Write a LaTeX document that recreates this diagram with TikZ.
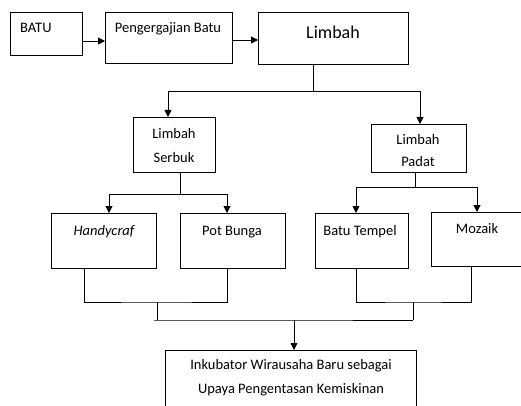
\documentclass[tikz,border=0pt]{standalone}
\usepackage{fontspec}
\setmainfont{Carlito}
\usetikzlibrary{arrows.meta}
\begin{document}
\begin{tikzpicture}[x=1pt,y=-1pt,
  box/.style={draw,line width=0.9pt,inner sep=0pt,anchor=north west},
  txt/.style={anchor=base,inner sep=0pt,font=\fontsize{14.5}{17}\selectfont},
  big/.style={anchor=base,inner sep=0pt,font=\fontsize{18}{21}\selectfont},
  ln/.style={line width=0.9pt},
  arr/.style={line width=0.9pt,-{Triangle[length=7pt,width=7pt]}}]
\clip (0,0) rectangle (521,406);
\fill[white] (0,0) rectangle (521,406);
% boxes
\node[box,minimum width=72pt,minimum height=43pt] (BATU) at (10,12) {};
\node[box,minimum width=127pt,minimum height=51pt] (PENG) at (105,12) {};
\node[box,minimum width=150pt,minimum height=52pt] (LIM) at (258,12) {};
\node[box,minimum width=82pt,minimum height=55pt] (SER) at (133,117) {};
\node[box,minimum width=95pt,minimum height=48pt] (PAD) at (371,124) {};
\node[box,minimum width=105pt,minimum height=55pt] (HAN) at (51,213) {};
\node[box,minimum width=105pt,minimum height=55pt] (POT) at (180,213) {};
\node[box,minimum width=93pt,minimum height=55pt] (BT) at (315,213) {};
\node[box,minimum width=95pt,minimum height=54pt] (MOZ) at (431,212) {};
\node[box,minimum width=251pt,minimum height=70pt] (INK) at (165,350) {};
% texts
\node[txt,anchor=base west] (tBATU) at (20,33) {BATU};
\node[txt] (tPENG) at (168,33) {Pengergajian Batu};
\node[big] (tLIM) at (333,39) {Limbah};
\node[txt] (tSER1) at (174,139) {Limbah};
\node[txt] (tSER2) at (174,162) {Serbuk};
\node[txt] (tPAD1) at (418,145) {Limbah};
\node[txt] (tPAD2) at (418,166) {Padat};
\node[txt] (tHAN) at (104,235) {\itshape Handycraf};
\node[txt] (tPOT) at (232,235) {Pot Bunga};
\node[txt] (tBT) at (360,235) {Batu Tempel};
\node[txt] (tMOZ) at (477,233) {Mozaik};
\node[txt] (tINK1) at (291,369) {Inkubator Wirausaha Baru sebagai};
\node[txt] (tINK2) at (291,393) {Upaya Pengentasan Kemiskinan};
% junction coordinates
\coordinate (j1) at (313,91);
\coordinate (j2) at (180,194);
\coordinate (j3) at (415,187);
\coordinate (jL) at (157,302);
\coordinate (jR) at (413,302);
\coordinate (jB) at (294,320);
% connectors
\draw[arr] (BATU.east |- 0,41) -- (PENG.west |- 0,41);
\draw[arr] (PENG.east |- 0,40) -- (LIM.west |- 0,40);
\draw[ln] (LIM.south -| j1) -- (j1);
\draw[arr] (j1) -| (SER.north -| 168,0);
\draw[arr] (j1) -| (PAD.north -| 420,0);
\draw[ln] (SER.south -| j2) -- (j2);
\draw[arr] (j2) -| (HAN.north -| 109,0);
\draw[arr] (j2) -| (POT.north -| 227,0);
\draw[ln] (PAD.south -| j3) -- (j3);
\draw[arr] (j3) -| (BT.north -| 356,0);
\draw[arr] (j3) -| (MOZ.north -| 477,0);
\draw[ln] (HAN.south -| 84,0) |- (jL) -| (POT.south -| 227,0);
\draw[ln] (BT.south -| 356,0) |- (jR) -| (MOZ.south -| 471,0);
\draw[ln] (jL) -- (157,320);
\draw[ln] (jR) -- (413,320);
\draw[ln] (154,320) -- (jB) -- (413,320);
\draw[arr] (jB) -- (INK.north -| jB);
\end{tikzpicture}
\end{document}
